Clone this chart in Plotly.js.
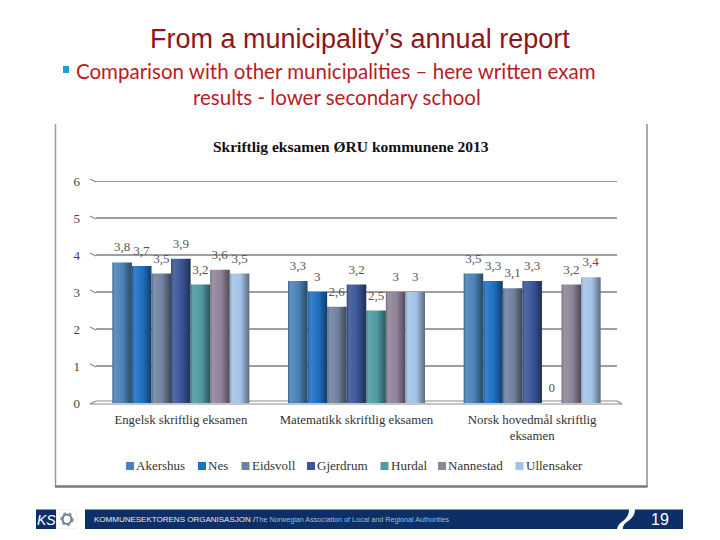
<!DOCTYPE html>
<html>
<head>
<meta charset="utf-8">
<script src="https://cdn.plot.ly/plotly-3.0.1.min.js"></script>
<style>html,body{margin:0;padding:0;background:#fff}#c{width:720px;height:540px}</style>
</head>
<body>
<div id="c"></div>
<script>
const categories = ['Engelsk skriftlig eksamen', 'Matematikk skriftlig eksamen', 'Norsk hovedmål skriftlig<br>eksamen'];
const akershus = [3.8, 3.3, 3.5];
const nes = [3.7, 3, 3.3];
const eidsvoll = [3.5, 2.6, 3.1];
const gjerdrum = [3.9, 3.2, 3.3];
const hurdal = [3.2, 2.5, 0];
const nannestad = [3.6, 3, 3.2];
const ullensaker = [3.5, 3, 3.4];
const seriesNames = ['Akershus', 'Nes', 'Eidsvoll', 'Gjerdrum', 'Hurdal', 'Nannestad', 'Ullensaker'];
const seriesValues = [akershus, nes, eidsvoll, gjerdrum, hurdal, nannestad, ullensaker];
const seriesColors = ['#4a82b5', '#1f6fc0', '#6f829f', '#3a5598', '#4f9aa3', '#8f8498', '#a3c3e8'];
const yTicks = [0, 1, 2, 3, 4, 5, 6];
const legendSwatchX = [126, 198, 241.5, 307, 380.5, 438, 515.5];

const L = 93, R = 620, T = 181, B = 403;
const px = x => (x - L) / (R - L);
const py = y => (B - y) / (B - T);
const serif = '"Liberation Serif", serif';
const sans = '"Liberation Sans", sans-serif';

const traces = seriesNames.map((n, i) => ({
  type: 'bar', name: n, x: categories, y: seriesValues[i],
  marker: {color: seriesColors[i], line: {width: 0}},
  texttemplate: '%{y}', textposition: 'outside', constraintext: 'none', cliponaxis: false,
  textfont: {family: serif, size: 13, color: '#555'}, hoverinfo: 'skip'
}));

const rect = (x0, y0, x1, y1, fill, layer) => ({type: 'rect', xref: 'paper', yref: 'paper', x0: px(x0), x1: px(x1), y0: py(y0), y1: py(y1), fillcolor: fill, line: {width: 0}, layer: layer || 'above'});
const seg = (x0, y0, x1, y1, c, w, layer) => ({type: 'line', xref: 'paper', yref: 'paper', x0: px(x0), x1: px(x1), y0: py(y0), y1: py(y1), line: {color: c, width: w}, layer: layer || 'below'});
const ring = (x0, y0, x1, y1, c, w, dash) => ({type: 'circle', xref: 'paper', yref: 'paper', x0: px(x0), x1: px(x1), y0: py(y0), y1: py(y1), fillcolor: 'rgba(0,0,0,0)', line: {color: c, width: w, dash: dash || 'solid'}, layer: 'above'});

const shapes = [
  seg(55.5, 124, 55.5, 487, '#9a9a9a', 1.5),
  seg(647, 124, 647, 487, '#8f8f8f', 1.5),
  seg(55, 486.5, 647.5, 486.5, '#7a7a7a', 2.5),
  rect(63, 66, 69, 73, '#1f9bd7'),
  seg(96, 401, 617, 401, '#8a8a8a', 1.2),
  seg(90, 404, 622, 404, '#8a8a8a', 1.2),
  seg(90, 404, 96, 401, '#8a8a8a', 1.2),
  seg(617, 401, 622, 404, '#8a8a8a', 1.2),
  rect(36, 509.5, 56, 529, '#0b2f66'),
  rect(56, 509.5, 77, 529, '#eef1f5'),
  rect(57, 510.5, 76, 528, '#ffffff'),
  rect(85, 509.5, 683, 529, '#0b2f66'),
  ring(62.5, 514.5, 71.5, 524, '#6f7d8c', 2.2),
  ring(61, 513, 73, 525.5, '#8a97a3', 1.5, 'dot'),
  {type: 'path', xref: 'paper', yref: 'paper', layer: 'above', line: {width: 0}, fillcolor: '#ffffff',
   path: `M ${px(617)} ${py(530)} C ${px(618)} ${py(520)}, ${px(629)} ${py(522)}, ${px(629)} ${py(509)} L ${px(635)} ${py(509)} C ${px(635)} ${py(522)}, ${px(622)} ${py(520)}, ${px(623)} ${py(530)} Z`}
];
yTicks.slice(1).forEach(v => {
  shapes.push({type: 'line', xref: 'paper', yref: 'y', x0: px(96), x1: px(617), y0: v, y1: v, line: {color: '#7f7f7f', width: 1.4}, layer: 'below'});
  const g = B - v * (B - T) / 6;
  shapes.push(seg(90, g - 2, 96, g + 1, '#8a8a8a', 1.2));
});
seriesNames.forEach((n, i) => shapes.push(rect(legendSwatchX[i], 462, legendSwatchX[i] + 8, 470, seriesColors[i])));

const ann = (x, y, text, font, extra) => Object.assign({xref: 'paper', yref: 'paper', x: px(x), y: py(y), text, showarrow: false, font, xanchor: 'center', yanchor: 'middle'}, extra || {});
const annotations = [
  ann(360, 39, 'From a municipality’s annual report', {family: sans, size: 27, color: '#8e1518'}),
  ann(74, 71, 'Comparison with other municipalities – here written exam', {family: 'Lato, sans-serif', size: 20.5, color: '#b81c24'}, {xanchor: 'left'}),
  ann(336.5, 97, 'results - lower secondary school', {family: 'Lato, sans-serif', size: 20.5, color: '#b81c24'}),
  ann(351, 146, '<b>Skriftlig eksamen ØRU kommunene 2013</b>', {family: serif, size: 15.5, color: '#111'}),
  ann(46.5, 519.5, '<i>KS</i>', {family: sans, size: 14, color: '#fff'}),
  ann(92, 519.5, 'KOMMUNESEKTORENS ORGANISASJON /', {family: sans, size: 8, color: '#e6ecf4'}, {xanchor: 'left'}),
  ann(253, 519.5, 'The Norwegian Association of Local and Regional Authorities', {family: sans, size: 7.2, color: '#a9bad2'}, {xanchor: 'left'}),
  ann(659.5, 519.5, '19', {family: sans, size: 16, color: '#fff'})
];
seriesNames.forEach((n, i) => annotations.push(ann(legendSwatchX[i] + 8, 465.5, n, {family: serif, size: 13, color: '#333'}, {xanchor: 'left'})));

const layout = {
  width: 720, height: 540, autosize: false,
  margin: {l: L, r: 720 - R, t: T, b: 540 - B, pad: 0},
  paper_bgcolor: '#fff', plot_bgcolor: 'rgba(0,0,0,0)',
  separators: ',.', barmode: 'group', bargap: 0.22, bargroupgap: 0,
  showlegend: false,
  xaxis: {type: 'category', tickvals: categories, ticktext: categories, showgrid: false, zeroline: false, showline: false, ticks: '', tickangle: 0, tickfont: {family: serif, size: 12.8, color: '#333'}, ticklabelstandoff: 7},
  yaxis: {range: [0, 6], tickvals: yTicks, ticktext: yTicks.map(String), showgrid: false, zeroline: false, showline: false, ticks: '', tickfont: {family: serif, size: 13, color: '#444'}, ticklabelstandoff: 12},
  shapes, annotations
};

Plotly.newPlot('c', traces, layout, {displayModeBar: false, staticPlot: true}).then(gd => {
  // horizontal shading on the bars, as in the reference's 3D style
  const svg = gd.querySelector('.main-svg');
  const NS = 'http://www.w3.org/2000/svg';
  const defs = document.createElementNS(NS, 'defs');
  const shade = (hex, k) => {
    const n = parseInt(hex.slice(1), 16);
    const f = c => Math.round(Math.min(255, Math.max(0, k < 1 ? c * k : c + (255 - c) * (k - 1))));
    return `rgb(${f(n >> 16 & 255)},${f(n >> 8 & 255)},${f(n & 255)})`;
  };
  seriesColors.forEach((c, i) => {
    const g = document.createElementNS(NS, 'linearGradient');
    g.setAttribute('id', 'barg' + i);
    [[0, 0.8], [0.12, 1.12], [0.55, 1], [1, 0.55]].forEach(([o, k]) => {
      const s = document.createElementNS(NS, 'stop');
      s.setAttribute('offset', o);
      s.setAttribute('stop-color', shade(c, k));
      g.appendChild(s);
    });
    defs.appendChild(g);
  });
  svg.insertBefore(defs, svg.firstChild);
  gd.querySelectorAll('.barlayer .trace.bars').forEach((t, i) => {
    t.querySelectorAll('.point path').forEach(p => { p.style.fill = `url(#barg${i})`; });
    t.querySelectorAll('.point text').forEach(x => {
      const tr = x.getAttribute('transform') || '';
      x.setAttribute('transform', 'translate(0,-5) ' + tr);
    });
  });
});
</script>
</body>
</html>
